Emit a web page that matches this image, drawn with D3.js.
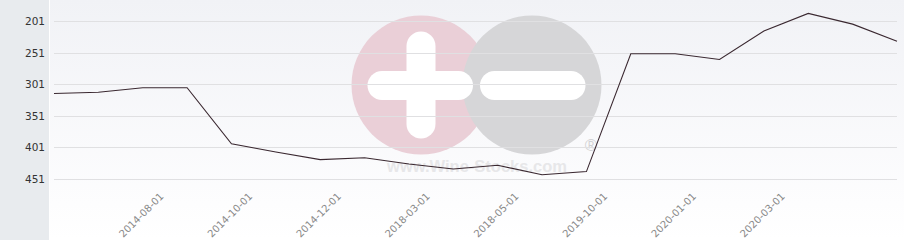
<!DOCTYPE html>
<html>
<head>
<meta charset="utf-8">
<script src="https://cdn.jsdelivr.net/npm/d3@7"></script>
<style>
  html, body { margin: 0; padding: 0; background: #ffffff; }
  svg { display: block; }
</style>
</head>
<body>
<div id="chart"></div>
<script>
'use strict';

// x categories (only every other one carries a label on the axis)
var categories = ['', '', '2014-08-01', '', '2014-10-01', '', '2014-12-01', '', '2018-03-01', '',
  '2018-05-01', '', '2019-10-01', '', '2020-01-01', '', '2020-03-01', '', '', ''];
// rank values (lower is better, axis is reversed)
var ranks = [316, 314, 307, 307, 396, 409, 421, 418, 428, 436, 430, 445, 440, 253, 253, 262, 217, 189, 206, 233];
var yTicks = [201, 251, 301, 351, 401, 451];

var width = 904;
var height = 240;
var panelWidth = 49;

var svg = d3.select('#chart').append('svg')
  .attr('width', width)
  .attr('height', height);

var defs = svg.append('defs');
var grad = defs.append('linearGradient')
  .attr('id', 'bg')
  .attr('x1', 0).attr('y1', 0).attr('x2', 0).attr('y2', 1);
grad.append('stop').attr('offset', '0%').attr('stop-color', '#f1f2f6');
grad.append('stop').attr('offset', '85%').attr('stop-color', '#fdfdfe');
grad.append('stop').attr('offset', '100%').attr('stop-color', '#ffffff');

// background: grey panel behind the y labels, gradient plot area
svg.append('rect').attr('x', 0).attr('y', 0).attr('width', panelWidth).attr('height', height).attr('fill', '#e8ebee');
svg.append('rect').attr('x', panelWidth + 1).attr('y', 0).attr('width', width - panelWidth - 1).attr('height', height).attr('fill', 'url(#bg)');

var x = d3.scalePoint()
  .domain(d3.range(ranks.length))
  .range([54, 897]);

var y = d3.scaleLinear()
  .domain([201, 451])
  .range([21, 178.5]);

// watermark
var mark = svg.append('g').attr('class', 'watermark');
mark.append('circle').attr('cx', 421).attr('cy', 85).attr('r', 69.5).attr('fill', '#eacfd7');
mark.append('circle').attr('cx', 532).attr('cy', 85).attr('r', 69.5).attr('fill', '#d6d6d8');
mark.append('rect').attr('x', 406.5).attr('y', 31.5).attr('width', 29).attr('height', 107).attr('rx', 14.5).attr('fill', '#ffffff');
mark.append('rect').attr('x', 367.5).attr('y', 71).attr('width', 105.5).attr('height', 29).attr('rx', 14.5).attr('fill', '#ffffff');
mark.append('rect').attr('x', 480).attr('y', 71).attr('width', 105.5).attr('height', 29).attr('rx', 14.5).attr('fill', '#ffffff');
mark.append('text')
  .attr('x', 591).attr('y', 151)
  .attr('text-anchor', 'middle')
  .style('font', '17px "Liberation Sans", Arial, sans-serif')
  .style('fill', '#d2d2d4')
  .text('\u00ae');
mark.append('text')
  .attr('x', 477).attr('y', 172)
  .attr('text-anchor', 'middle')
  .style('font', 'bold 16.5px "Liberation Sans", Arial, sans-serif')
  .style('fill', '#e7e7e9')
  .text('www.Wine-Stocks.com');

// grid lines + y labels
var yAxis = svg.append('g')
  .call(d3.axisLeft(y).tickValues(yTicks).tickSize(0).tickPadding(0).tickFormat(d3.format('d')));
yAxis.select('.domain').remove();
yAxis.selectAll('.tick line')
  .attr('x1', 54).attr('x2', 897)
  .attr('stroke', '#e0e0e2')
  .attr('stroke-width', 1);
yAxis.selectAll('.tick text')
  .attr('x', 45)
  .attr('dy', '0.34em')
  .style('font-family', '"DejaVu Sans", sans-serif')
  .style('font-size', '10.5px')
  .style('fill', '#333333');
yAxis.selectAll('.tick').attr('transform', function(d) {
  return 'translate(0,' + (Math.round(y(d)) + 0.5) + ')';
});

// x labels, rotated
var xAxis = svg.append('g')
  .call(d3.axisBottom(x).tickSize(0).tickFormat(function(i) { return categories[i]; }));
xAxis.select('.domain').remove();
xAxis.selectAll('.tick').filter(function(i) { return categories[i] === ''; }).remove();
xAxis.selectAll('.tick text')
  .attr('y', 0)
  .attr('dy', 0)
  .attr('text-anchor', 'end')
  .attr('transform', 'translate(21,197) rotate(-45)')
  .style('font-family', '"DejaVu Sans", sans-serif')
  .style('font-size', '10px')
  .style('fill', '#888888');

// rank line
var line = d3.line()
  .x(function(d, i) { return x(i); })
  .y(function(d) { return y(d); });

svg.append('path')
  .datum(ranks)
  .attr('d', line)
  .attr('fill', 'none')
  .attr('stroke', '#3a2830')
  .attr('stroke-width', 1.1);
</script>
</body>
</html>
